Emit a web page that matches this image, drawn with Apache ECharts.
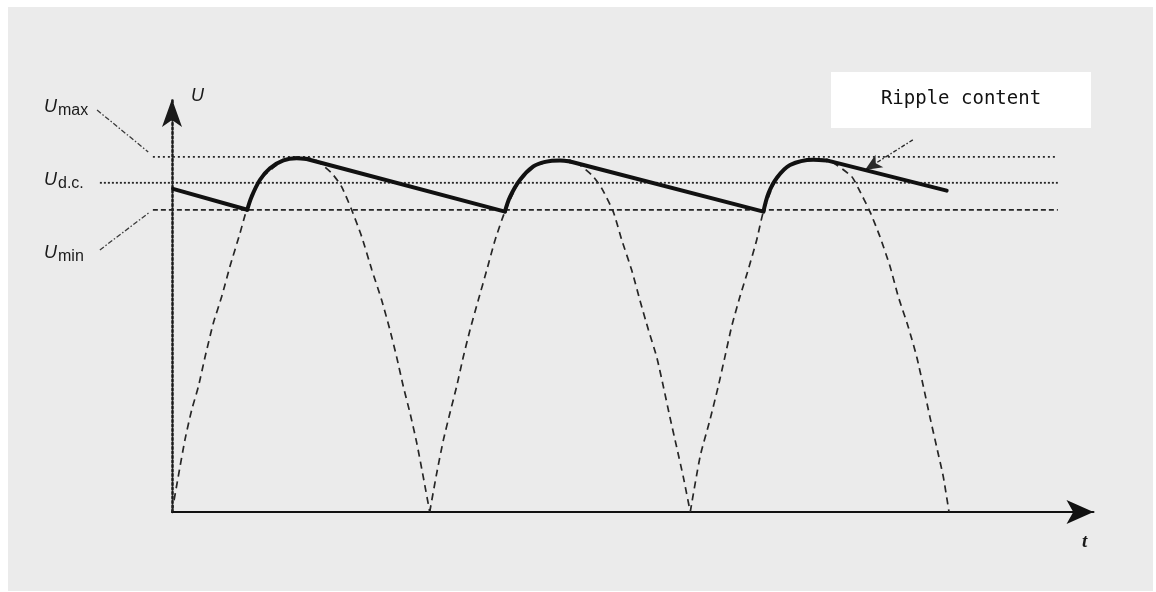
<!DOCTYPE html>
<html>
<head>
<meta charset="utf-8">
<script src="https://cdn.jsdelivr.net/npm/echarts@6/dist/echarts.min.js"></script>
<style>
  html, body { margin: 0; padding: 0; background: #ffffff; }
  #bg { position: absolute; left: 8px; top: 7px; width: 1145px; height: 584px; background: #ebebeb; }
  #chart { position: absolute; left: 0; top: 0; width: 1156px; height: 592px; }
</style>
</head>
<body>
<div id="bg"></div>
<div id="chart"></div>
<script>
// Time axis: one unit = one half period of the mains wave. Voltage: 1 = Umax.
const arch1 = [[0,0],[0.024,0.099],[0.050,0.203],[0.076,0.287],[0.102,0.353],[0.128,0.437],[0.160,0.532],[0.192,0.606],[0.224,0.691],[0.263,0.785],[0.289,0.851],[0.340,0.935],[0.429,0.989],[0.491,1.0],[0.553,0.992],[0.618,0.954],[0.656,0.916],[0.695,0.851],[0.734,0.775],[0.773,0.682],[0.811,0.597],[0.843,0.513],[0.869,0.437],[0.895,0.353],[0.921,0.278],[0.947,0.194],[0.972,0.099],[0.997,0]];
const arch2 = [[0.997,0],[1.024,0.109],[1.050,0.203],[1.075,0.278],[1.101,0.353],[1.127,0.437],[1.153,0.513],[1.185,0.597],[1.218,0.682],[1.250,0.766],[1.288,0.846],[1.346,0.935],[1.398,0.973],[1.501,0.992],[1.559,0.986],[1.624,0.949],[1.662,0.912],[1.707,0.846],[1.740,0.766],[1.778,0.682],[1.810,0.597],[1.843,0.513],[1.875,0.437],[1.901,0.353],[1.926,0.268],[1.952,0.184],[1.978,0.099],[2.005,0]];
const arch3 = [[2.005,0],[2.043,0.156],[2.081,0.259],[2.113,0.353],[2.139,0.437],[2.165,0.522],[2.197,0.606],[2.229,0.682],[2.262,0.766],[2.288,0.846],[2.339,0.940],[2.391,0.977],[2.480,0.994],[2.545,0.989],[2.629,0.945],[2.655,0.912],[2.700,0.846],[2.739,0.775],[2.778,0.691],[2.810,0.606],[2.848,0.522],[2.881,0.437],[2.907,0.353],[2.932,0.268],[2.958,0.184],[2.984,0.099],[3.006,0]];
const ripple = [[0.004,0.910],[0.291,0.851],[0.308,0.888],[0.340,0.935],[0.379,0.968],[0.431,0.990],[0.482,0.996],[0.521,0.994],[1.288,0.846],[1.308,0.888],[1.346,0.935],[1.398,0.973],[1.443,0.986],[1.501,0.990],[1.540,0.987],[2.288,0.846],[2.308,0.898],[2.339,0.940],[2.391,0.977],[2.481,0.992],[2.533,0.990],[2.997,0.905]];
// index ranges of the ripple curve that follow the charging arc (the rest are straight discharge lines)
const rippleRises = [[1, 7], [8, 14], [15, 20]];
const levelUmax = 1.0;
const levelUdc = 0.927;
const levelUmin = 0.851;
const lineUmax = [[-0.074, levelUmax], [3.427, levelUmax]];
const lineUdc = [[-0.279, levelUdc], [3.427, levelUdc]];
const lineUmin = [[-0.074, levelUmin], [3.427, levelUmin]];
const leaderUmax = [[-0.290, 1.132], [-0.092, 1.014]];
const leaderUmin = [[-0.279, 0.738], [-0.085, 0.845]];
const rippleArrow = [[2.866, 1.048], [2.681, 0.963]];
const xMax = 3.565;
const xMinLeft = -0.4;
const yMax = 1.163;

const chart = echarts.init(document.getElementById('chart'), null, { renderer: 'canvas' });
const pxPerX = (1156 - 172 - 62.5) / xMax;
const dashArch = { color: '#262626', width: 1.7, type: [7, 5] };
const solidStyle = { color: '#111', width: 4, join: 'round', cap: 'round' };
function lineSeries(data, style, extra) {
  return Object.assign({
    type: 'line', data: data, symbol: 'none', silent: true, animation: false,
    lineStyle: style, z: 3
  }, extra || {});
}
// Build ripple series: smooth arcs + straight discharge segments
const rippleSeries = [];
rippleRises.forEach(function (r) {
  rippleSeries.push(lineSeries(ripple.slice(r[0], r[1] + 1), solidStyle, { z: 5, smooth: 0.35 }));
});
const fallStarts = [0].concat(rippleRises.map(function (r) { return r[1]; }));
fallStarts.forEach(function (s) {
  rippleSeries.push(lineSeries(ripple.slice(s, s + 2), solidStyle, { z: 5 }));
});
rippleSeries[0].markLine = {
  silent: true, animation: false,
  symbol: ['none', 'arrow'], symbolSize: [11, 17],
  label: { show: false },
  lineStyle: { color: '#2a2a2a', width: 1.4, type: [4, 2, 1.5, 2] },
  data: [[{ coord: rippleArrow[0] }, { coord: rippleArrow[1] }]]
};

const hiddenAxis = { show: false };
const option = {
  animation: false,
  backgroundColor: 'transparent',
  grid: [
    { left: 172, right: 62.5, top: 99, bottom: 80 },
    { left: 172 + xMinLeft * pxPerX, right: 62.5, top: 99, bottom: 80 }
  ],
  xAxis: [{
    type: 'value', min: 0, max: xMax, gridIndex: 0,
    axisLine: { show: true, symbol: ['none', 'arrow'], symbolSize: [18, 27], lineStyle: { color: '#111', width: 2 } },
    axisTick: { show: false }, axisLabel: { show: false }, splitLine: { show: false }
  }, Object.assign({ type: 'value', min: xMinLeft, max: xMax, gridIndex: 1 }, hiddenAxis)],
  yAxis: [{
    type: 'value', min: 0, max: yMax, gridIndex: 0,
    axisLine: { show: true, symbol: ['none', 'arrow'], symbolSize: [15, 28], lineStyle: { color: '#1a1a1a', width: 2.5, type: [2, 2.5] } },
    axisTick: { show: false }, axisLabel: { show: false }, splitLine: { show: false }
  }, Object.assign({ type: 'value', min: 0, max: yMax, gridIndex: 1 }, hiddenAxis)],
  series: [
    lineSeries(lineUmax, { color: '#262626', width: 1.8, type: [2, 3] }, { xAxisIndex: 1, yAxisIndex: 1 }),
    lineSeries(lineUdc, { color: '#262626', width: 1.8, type: [2, 2] }, { xAxisIndex: 1, yAxisIndex: 1 }),
    lineSeries(lineUmin, { color: '#262626', width: 1.7, type: [5, 3] }, { xAxisIndex: 1, yAxisIndex: 1 }),
    lineSeries(leaderUmax, { color: '#3a3a3a', width: 1.3, type: [5, 2, 1.5, 2] }, { xAxisIndex: 1, yAxisIndex: 1 }),
    lineSeries(leaderUmin, { color: '#3a3a3a', width: 1.3, type: [5, 2, 1.5, 2] }, { xAxisIndex: 1, yAxisIndex: 1 }),
    lineSeries(arch1, dashArch, { smooth: 0.2 }),
    lineSeries(arch2, dashArch, { smooth: 0.2 }),
    lineSeries(arch3, dashArch, { smooth: 0.2 })
  ].concat(rippleSeries),
  graphic: [
    { type: 'text', x: 44, y: 107, style: { text: 'U', font: 'italic 18px "Liberation Sans"', fill: '#1a1a1a', align: 'left', verticalAlign: 'middle' } },
    { type: 'text', x: 58, y: 110.5, style: { text: 'max', font: '16px "Liberation Sans"', fill: '#1a1a1a', align: 'left', verticalAlign: 'middle' } },
    { type: 'text', x: 44, y: 180, style: { text: 'U', font: 'italic 18px "Liberation Sans"', fill: '#1a1a1a', align: 'left', verticalAlign: 'middle' } },
    { type: 'text', x: 58, y: 183.5, style: { text: 'd.c.', font: '16px "Liberation Sans"', fill: '#1a1a1a', align: 'left', verticalAlign: 'middle' } },
    { type: 'text', x: 44, y: 253, style: { text: 'U', font: 'italic 18px "Liberation Sans"', fill: '#1a1a1a', align: 'left', verticalAlign: 'middle' } },
    { type: 'text', x: 58, y: 256.5, style: { text: 'min', font: '16px "Liberation Sans"', fill: '#1a1a1a', align: 'left', verticalAlign: 'middle' } },
    { type: 'text', x: 191, y: 96, style: { text: 'U', font: 'italic 18px "Liberation Sans"', fill: '#1a1a1a', align: 'left', verticalAlign: 'middle' } },
    { type: 'text', x: 1082, y: 542, style: { text: 't', font: 'italic bold 19px "Liberation Serif"', fill: '#1a1a1a', align: 'left', verticalAlign: 'middle' } },
    { type: 'rect', shape: { x: 831, y: 72, width: 260, height: 56 }, style: { fill: '#ffffff' }, z: 10 },
    { type: 'text', x: 961, y: 99, z: 11, style: { text: 'Ripple content', font: '19px "DejaVu Sans Mono"', fill: '#111', align: 'center', verticalAlign: 'middle' } }
  ]
};
chart.setOption(option);
</script>
</body>
</html>
